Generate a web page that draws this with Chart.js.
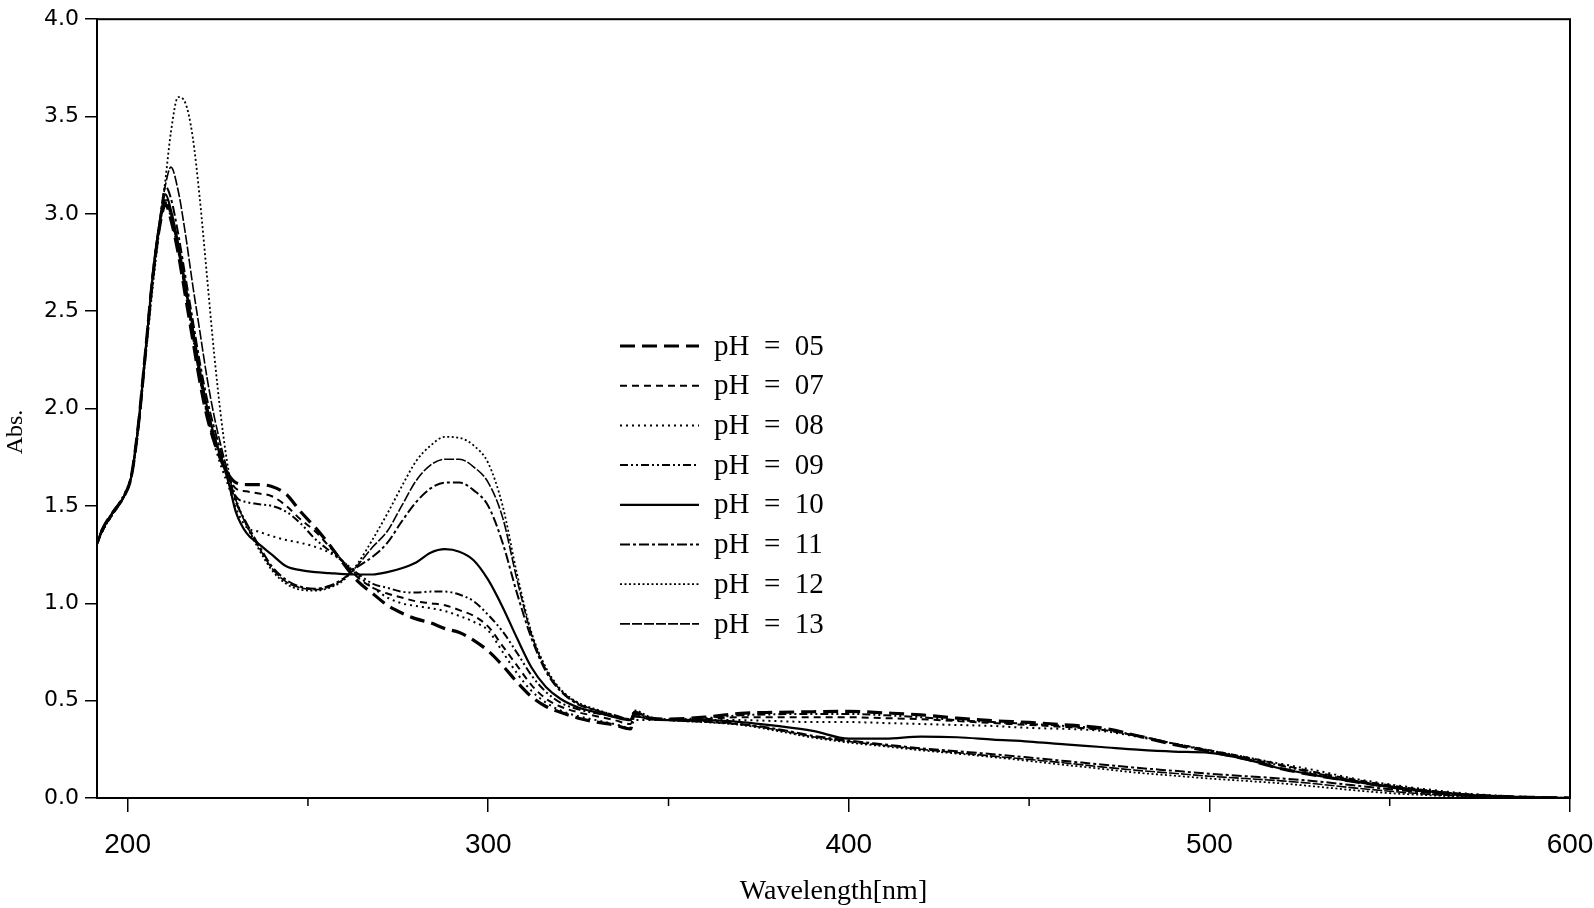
<!DOCTYPE html>
<html>
<head>
<meta charset="utf-8">
<script src="https://cdn.jsdelivr.net/npm/chart.js@4.4.1/dist/chart.umd.min.js"></script>
<style>
  body { margin: 0; background: #fff; }
</style>
</head>
<body>
<canvas id="myChart" width="1594" height="908"></canvas>
<script>
// wavelength grid (nm), shared by all spectra
const wavelengths = [190.5, 193, 196, 199, 201, 203, 205, 207, 209,
  210.5, 212, 214, 216, 218, 220, 222, 224, 226, 228,
  230, 233, 236, 240, 244, 248, 252, 256, 260, 264,
  268, 272, 276, 280, 284, 288, 292, 296, 300, 304,
  308, 312, 316, 320, 325, 330, 335, 339.5, 340.5, 345,
  350, 360, 370, 380, 390, 400, 410, 420, 430, 440,
  450, 460, 470, 480, 490, 500, 510, 520, 530, 540,
  550, 560, 570, 580, 590, 600];

const ph05 = [1.26, 1.38, 1.47, 1.55, 1.65, 1.92, 2.30, 2.68, 2.95,
  3.05, 2.97, 2.80, 2.58, 2.36, 2.14, 1.96, 1.83, 1.73, 1.66,
  1.62, 1.61, 1.61, 1.60, 1.56, 1.47, 1.39, 1.30, 1.20, 1.11,
  1.05, 0.99, 0.95, 0.92, 0.90, 0.87, 0.85, 0.81, 0.755, 0.68,
  0.595, 0.52, 0.47, 0.44, 0.41, 0.39, 0.375, 0.355, 0.44, 0.41,
  0.405, 0.415, 0.435, 0.44, 0.443, 0.445, 0.437, 0.427, 0.41, 0.397,
  0.388, 0.376, 0.36, 0.32, 0.275, 0.24, 0.20, 0.15, 0.115, 0.085,
  0.057, 0.035, 0.018, 0.008, 0.003, 0.0];

const ph07 = [1.25, 1.37, 1.46, 1.55, 1.65, 1.91, 2.29, 2.67, 2.95,
  3.07, 2.99, 2.82, 2.60, 2.38, 2.16, 1.98, 1.84, 1.74, 1.65,
  1.59, 1.575, 1.565, 1.55, 1.50, 1.43, 1.37, 1.29, 1.21, 1.13,
  1.08, 1.05, 1.03, 1.01, 1.0, 0.99, 0.965, 0.935, 0.88, 0.78,
  0.68, 0.58, 0.51, 0.47, 0.44, 0.42, 0.40, 0.38, 0.42, 0.405,
  0.40, 0.405, 0.415, 0.415, 0.415, 0.415, 0.41, 0.405, 0.395, 0.385,
  0.375, 0.365, 0.35, 0.32, 0.28, 0.245, 0.21, 0.17, 0.13, 0.095,
  0.065, 0.04, 0.02, 0.01, 0.004, 0];

const ph08 = [1.27, 1.38, 1.47, 1.56, 1.66, 1.93, 2.31, 2.69, 2.96,
  3.06, 2.98, 2.81, 2.60, 2.38, 2.16, 1.97, 1.82, 1.70, 1.60,
  1.49, 1.39, 1.37, 1.345, 1.325, 1.31, 1.29, 1.26, 1.21, 1.14,
  1.08, 1.03, 1.0, 0.986, 0.975, 0.96, 0.935, 0.905, 0.86, 0.75,
  0.64, 0.55, 0.49, 0.45, 0.42, 0.40, 0.38, 0.36, 0.40, 0.40,
  0.40, 0.40, 0.40, 0.395, 0.39, 0.39, 0.385, 0.38, 0.375, 0.37,
  0.36, 0.355, 0.345, 0.315, 0.28, 0.245, 0.21, 0.175, 0.14, 0.10,
  0.07, 0.045, 0.025, 0.012, 0.005, 0];

const ph09 = [1.26, 1.37, 1.47, 1.55, 1.65, 1.92, 2.30, 2.68, 2.96,
  3.08, 3.0, 2.83, 2.62, 2.40, 2.18, 2.0, 1.86, 1.75, 1.66,
  1.55, 1.52, 1.51, 1.50, 1.47, 1.41, 1.33, 1.27, 1.21, 1.15,
  1.10, 1.08, 1.06, 1.055, 1.06, 1.06, 1.045, 1.01, 0.94, 0.855,
  0.745, 0.63, 0.545, 0.49, 0.455, 0.435, 0.42, 0.405, 0.43, 0.41,
  0.405, 0.41, 0.425, 0.43, 0.432, 0.432, 0.425, 0.415, 0.40, 0.39,
  0.38, 0.37, 0.355, 0.32, 0.28, 0.24, 0.205, 0.165, 0.125, 0.09,
  0.06, 0.038, 0.02, 0.009, 0.003, 0];

const ph10 = [1.26, 1.38, 1.47, 1.55, 1.65, 1.92, 2.30, 2.69, 2.97,
  3.10, 3.02, 2.85, 2.64, 2.42, 2.20, 2.01, 1.86, 1.74, 1.62,
  1.47, 1.36, 1.31, 1.25, 1.19, 1.17, 1.16, 1.155, 1.15, 1.148,
  1.148, 1.16, 1.18, 1.21, 1.26, 1.278, 1.265, 1.22, 1.12, 0.98,
  0.82, 0.67, 0.57, 0.51, 0.465, 0.44, 0.415, 0.40, 0.42, 0.405,
  0.40, 0.40, 0.39, 0.37, 0.345, 0.305, 0.305, 0.315, 0.312, 0.30,
  0.29, 0.275, 0.262, 0.248, 0.238, 0.232, 0.20, 0.15, 0.115, 0.085,
  0.057, 0.035, 0.018, 0.008, 0.003, 0];

const ph11 = [1.26, 1.38, 1.47, 1.55, 1.65, 1.92, 2.31, 2.70, 2.98,
  3.14, 3.08, 2.90, 2.68, 2.46, 2.24, 2.05, 1.90, 1.77, 1.64,
  1.52, 1.41, 1.31, 1.19, 1.12, 1.085, 1.075, 1.09, 1.13, 1.19,
  1.24, 1.31, 1.42, 1.52, 1.59, 1.62, 1.62, 1.58, 1.50, 1.31,
  1.05, 0.82, 0.65, 0.55, 0.48, 0.45, 0.425, 0.405, 0.44, 0.41,
  0.40, 0.395, 0.38, 0.355, 0.32, 0.295, 0.275, 0.255, 0.24, 0.225,
  0.208, 0.19, 0.172, 0.155, 0.14, 0.125, 0.112, 0.10, 0.085, 0.065,
  0.045, 0.028, 0.015, 0.006, 0.002, 0];

const ph12 = [1.26, 1.37, 1.46, 1.55, 1.65, 1.90, 2.27, 2.63, 2.95,
  3.18, 3.42, 3.60, 3.57, 3.40, 3.08, 2.68, 2.28, 1.94, 1.68,
  1.54, 1.40, 1.29, 1.17, 1.10, 1.07, 1.065, 1.08, 1.12, 1.21,
  1.33, 1.46, 1.60, 1.73, 1.81, 1.855, 1.85, 1.81, 1.72, 1.50,
  1.15, 0.85, 0.67, 0.56, 0.49, 0.455, 0.425, 0.405, 0.45, 0.415,
  0.40, 0.39, 0.375, 0.345, 0.31, 0.285, 0.265, 0.245, 0.228, 0.21,
  0.19, 0.17, 0.15, 0.13, 0.115, 0.10, 0.088, 0.075, 0.058, 0.04,
  0.025, 0.015, 0.007, 0.003, 0.001, 0];

const ph13 = [1.26, 1.38, 1.47, 1.55, 1.65, 1.92, 2.30, 2.68, 2.98,
  3.15, 3.24, 3.12, 2.90, 2.64, 2.40, 2.16, 1.96, 1.80, 1.66,
  1.53, 1.40, 1.30, 1.18, 1.11, 1.08, 1.07, 1.085, 1.125, 1.20,
  1.29, 1.37, 1.50, 1.63, 1.71, 1.74, 1.74, 1.70, 1.62, 1.44,
  1.12, 0.84, 0.66, 0.555, 0.485, 0.45, 0.42, 0.40, 0.44, 0.41,
  0.40, 0.39, 0.378, 0.35, 0.315, 0.29, 0.27, 0.25, 0.233, 0.215,
  0.198, 0.18, 0.16, 0.142, 0.127, 0.112, 0.10, 0.088, 0.072, 0.052,
  0.035, 0.02, 0.01, 0.004, 0.001, 0];

const seriesLabels = ['pH  =  05', 'pH  =  07', 'pH  =  08', 'pH  =  09',
  'pH  =  10', 'pH  =  11', 'pH  =  12', 'pH  =  13'];
const seriesValues = [ph05, ph07, ph08, ph09, ph10, ph11, ph12, ph13];

const xTicks = [200, 300, 400, 500, 600];
const xMinorTicks = [250, 350, 450, 550];
const yTicks = [0, 0.5, 1, 1.5, 2, 2.5, 3, 3.5, 4];

// line looks, one per pH
const dashes = [[15, 7], [7, 5], [2, 4], [8, 3, 2, 3, 2, 3], [], [10, 3, 3, 3], [2, 2.5], [10, 2]];
const widths = [3.2, 2, 2, 2, 2.2, 2, 1.8, 1.6];

const serif = '"Liberation Serif", "Times New Roman", serif';

let datasets = seriesValues.map(function(vals, i) {
  return {
    label: seriesLabels[i],
    data: wavelengths.map(function(w, j) { return {x: w, y: vals[j]}; }),
    borderColor: '#000',
    borderWidth: widths[i],
    borderDash: dashes[i],
    showLine: true,
    pointRadius: 0,
    cubicInterpolationMode: 'monotone',
    fill: false
  };
});

// frame, minor x ticks, legend and the Abs. title
const extras = {
  id: 'extras',
  afterDraw: function(chart) {
    let ctx = chart.ctx;
    let a = chart.chartArea;
    let xs = chart.scales.x;
    ctx.save();
    ctx.strokeStyle = '#000';
    ctx.lineWidth = 2;
    ctx.setLineDash([]);
    ctx.strokeRect(a.left, a.top, a.right - a.left, a.bottom - a.top);

    ctx.lineWidth = 1.5;
    xMinorTicks.forEach(function(v) {
      let px = xs.getPixelForValue(v);
      ctx.beginPath();
      ctx.moveTo(px, a.bottom);
      ctx.lineTo(px, a.bottom + 8);
      ctx.stroke();
    });

    // legend
    ctx.font = '29px ' + serif;
    ctx.fillStyle = '#000';
    ctx.textBaseline = 'middle';
    chart.data.datasets.forEach(function(ds, i) {
      let y = 346 + i * 39.7;
      ctx.lineWidth = ds.borderWidth;
      ctx.setLineDash(ds.borderDash);
      ctx.beginPath();
      ctx.moveTo(620, y);
      ctx.lineTo(699, y);
      ctx.stroke();
      ctx.setLineDash([]);
      ctx.fillText(ds.label, 714, y + 1);
    });

    // y title
    ctx.translate(16, 432);
    ctx.rotate(-Math.PI / 2);
    ctx.textAlign = 'center';
    ctx.font = '24px ' + serif;
    ctx.fillText('Abs.', 0, 0);
    ctx.restore();
  }
};

let ctx = document.getElementById('myChart').getContext('2d');

let myChart = new Chart(ctx, {
  type: 'scatter',
  data: { datasets: datasets },
  options: {
    responsive: false,
    animation: false,
    layout: { padding: { top: 15, right: 0, left: 0, bottom: 0 } },
    plugins: {
      legend: { display: false },
      tooltip: { enabled: false }
    },
    scales: {
      x: {
        type: 'linear',
        min: 191.5,
        max: 600,
        afterFit: function(scale) {
          scale.height = 110;
          scale.paddingRight = 24;
        },
        afterBuildTicks: function(scale) {
          scale.ticks = xTicks.map(function(v) { return {value: v}; });
        },
        grid: { drawOnChartArea: false, tickLength: 14, color: '#000', lineWidth: 1.5 },
        border: { color: '#000', width: 2 },
        ticks: {
          color: '#000',
          padding: 16,
          maxRotation: 0,
          font: { family: '"Liberation Sans", Arial, sans-serif', size: 28 },
          callback: function(v) { return v; }
        },
        title: {
          display: true,
          text: 'Wavelength[nm]',
          color: '#000',
          padding: { top: 0, bottom: 0 },
          font: { family: serif, size: 28 }
        }
      },
      y: {
        min: 0,
        max: 4,
        afterFit: function(scale) { scale.width = 97; },
        afterBuildTicks: function(scale) {
          scale.ticks = yTicks.map(function(v) { return {value: v}; });
        },
        grid: { drawOnChartArea: false, tickLength: 12, color: '#000', lineWidth: 1.5 },
        border: { color: '#000', width: 2 },
        ticks: {
          color: '#000',
          padding: 6,
          font: { family: '"DejaVu Sans", sans-serif', size: 22 },
          callback: function(v) { return v.toFixed(1); }
        }
      }
    }
  },
  plugins: [extras]
});
</script>
</body>
</html>
